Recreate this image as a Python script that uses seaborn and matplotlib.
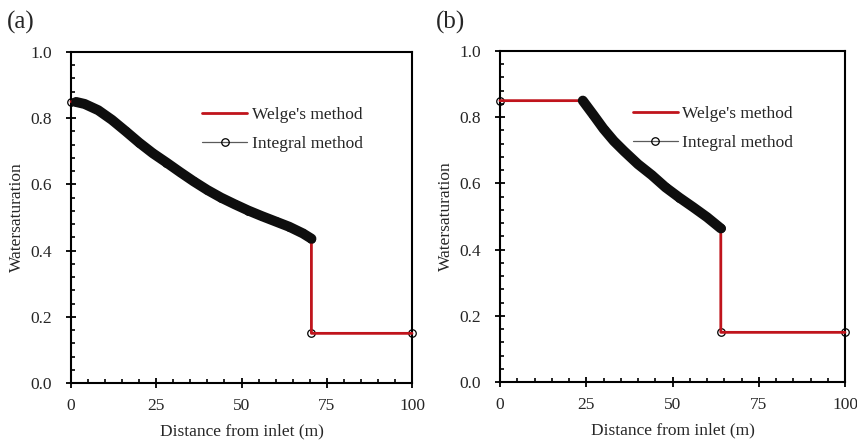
import numpy as np
import pandas as pd
import matplotlib
matplotlib.use("Agg")
import matplotlib.pyplot as plt
from matplotlib.ticker import MultipleLocator
import seaborn as sns

sns.set_style("ticks")
plt.rcParams["font.family"] = ["Liberation Serif", "DejaVu Serif"]

# Saturation profiles along the core (distance in m, water saturation)
# Case (a): rarefaction starts at the inlet
curve_x_a = [0, 1.5, 4, 8, 12, 16, 20, 24, 28, 32, 36, 40, 44, 48, 52, 56, 60, 64, 68, 70.5]
curve_sw_a = [0.850, 0.849, 0.843, 0.824, 0.795, 0.761, 0.726, 0.694, 0.666, 0.637,
              0.609, 0.583, 0.560, 0.540, 0.521, 0.504, 0.488, 0.472, 0.452, 0.436]
front_x_a = [70.5, 100]

# Case (b): plateau at the injected saturation, then rarefaction
plateau_x_b = [0]
curve_x_b = [24.0, 25, 27, 30, 33, 36, 40, 44, 48, 52, 56, 60, 64]
curve_sw_b = [0.850, 0.836, 0.808, 0.765, 0.728, 0.697, 0.658, 0.625, 0.588,
              0.557, 0.528, 0.498, 0.464]
front_x_b = [64, 100]

sw_inj = 0.85
sw_init = 0.15

x_ticks = [0, 25, 50, 75, 100]
y_ticks = [0.0, 0.2, 0.4, 0.6, 0.8, 1.0]

RED = "#c0141c"
GREY = "#5a5a5a"
BAND = "#0e0e0e"


def profile(xs, sws):
    return pd.DataFrame({"x": xs, "sw": sws})


fig = plt.figure(figsize=(8.57, 4.40), dpi=100)
ax_a = fig.add_axes([71 / 857, 1 - 383 / 440, 341 / 857, 331 / 440])
ax_b = fig.add_axes([500 / 857, 1 - 382 / 440, 345 / 857, 331 / 440])

panels = [
    (ax_a, "(a)",
     profile(curve_x_a + front_x_a, curve_sw_a + [sw_init, sw_init]),
     profile(curve_x_a + front_x_a, curve_sw_a + [sw_init, sw_init]),
     profile(curve_x_a[1:], curve_sw_a[1:])),
    (ax_b, "(b)",
     profile(plateau_x_b + curve_x_b + front_x_b, [sw_inj] + curve_sw_b + [sw_init, sw_init]),
     profile(plateau_x_b + curve_x_b + front_x_b, [sw_inj] + curve_sw_b + [sw_init, sw_init]),
     profile(curve_x_b, curve_sw_b)),
]

for ax, tag, welge, integral, band in panels:
    sns.lineplot(data=integral, x="x", y="sw", ax=ax, sort=False, estimator=None,
                 color=GREY, lw=0.9, marker="o", markersize=5.4,
                 markerfacecolor="none", markeredgecolor="black", markeredgewidth=0.9,
                 label="Integral method", zorder=2, clip_on=False)
    sns.lineplot(data=welge, x="x", y="sw", ax=ax, sort=False, estimator=None,
                 color=RED, lw=2.0, label="Welge's method", zorder=3, clip_on=False)
    # closely spaced integral-method points merge into a solid band
    sns.lineplot(data=band, x="x", y="sw", ax=ax, sort=False, estimator=None,
                 color=BAND, lw=7.2, solid_capstyle="round", solid_joinstyle="round",
                 zorder=5, legend=False)

    ax.set_xlim(0, 100)
    ax.set_ylim(0, 1.0)
    ax.set_xticks(x_ticks)
    ax.set_xticklabels([str(t) for t in x_ticks])
    ax.set_yticks(y_ticks)
    ax.set_yticklabels([f"{t:.1f}" for t in y_ticks])
    ax.xaxis.set_minor_locator(MultipleLocator(5))
    ax.yaxis.set_minor_locator(MultipleLocator(0.04))
    ax.tick_params(axis="both", which="major", direction="inout", length=6.5,
                   width=1.3, labelsize=12.5, color="black")
    ax.tick_params(axis="both", which="minor", direction="in", length=3.0,
                   width=1.2, color="black")
    ax.tick_params(axis="y", which="major", pad=10.5)
    ax.tick_params(axis="x", which="major", pad=7.5)
    for s in ax.spines.values():
        s.set_visible(True)
        s.set_linewidth(1.5)
        s.set_color("black")
    ax.set_xlabel("Distance from inlet (m)", fontsize=12.5, labelpad=7)
    ax.set_ylabel("Watersaturation", fontsize=12.5, labelpad=4)

    handles, labels = ax.get_legend_handles_labels()
    order = [labels.index("Welge's method"), labels.index("Integral method")]
    ax.legend(handles=[handles[i] for i in order], labels=[labels[i] for i in order],
              loc="upper left", bbox_to_anchor=(0.385, 0.834), frameon=False,
              fontsize=12.5, handlelength=2.6, handletextpad=0.25,
              labelspacing=0.75, borderpad=0, borderaxespad=0)

    fig.text(ax.get_position().x0 - 64 / 857, 1 - 22 / 440, tag,
             fontsize=18, ha="left", va="center")

fig.savefig("out.png", dpi=100)
